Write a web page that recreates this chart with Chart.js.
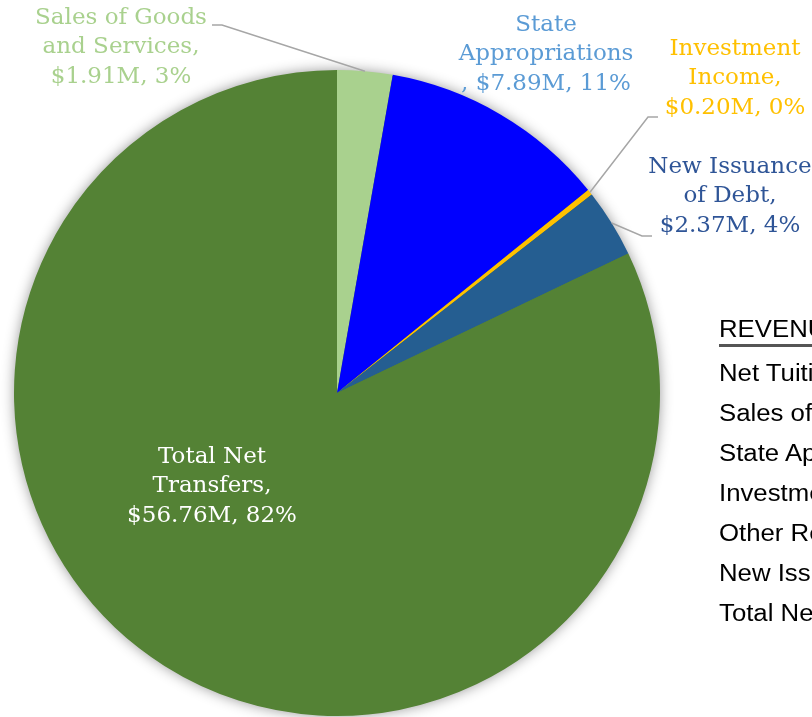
<!DOCTYPE html>
<html>
<head>
<meta charset="utf-8">
<script src="https://cdn.jsdelivr.net/npm/chart.js@4.4.1/dist/chart.umd.min.js"></script>
<style>
  html, body { margin: 0; padding: 0; background: #fff; overflow: hidden; }
  #wrap { position: relative; width: 812px; height: 717px; overflow: hidden; }
  #pie { position: absolute; left: 0; top: 0; }
  #revTable { position: absolute; left: 719px; top: 315px; font-family: "Liberation Sans", Arial, sans-serif; font-size: 23px; color: #000; white-space: nowrap; transform: scaleX(1.12); transform-origin: 0 0; }
  #revTable .hdr { border-bottom: 3px solid #555; line-height: 29px; margin-bottom: 6px; display: inline-block; padding-right: 40px; }
  #revTable .row { line-height: 40px; }
</style>
</head>
<body>
<div id="wrap">
  <canvas id="pie" width="812" height="717"></canvas>
  <div id="revTable"></div>
</div>
<script>
// datos del grafico
const categories = ['Net Tuition', 'Sales of Goods and Services', 'State Appropriations', 'Investment Income', 'Other Revenue', 'New Issuance of Debt', 'Total Net Transfers'];
const revenueM = [0, 1.91, 7.89, 0.20, 0, 2.37, 56.76];
const tableHeader = 'REVENUES';

// colores
const sliceColors = ['#ED7D31', '#A9D18E', '#0000FF', '#FFC000', '#A5A5A5', '#255E91', '#548235'];
const labelColors = ['#ED7D31', '#A9D18E', '#5B9BD5', '#FFC000', '#A5A5A5', '#2F5597', '#FFFFFF'];

// etiquetas con saltos de linea (null = sin etiqueta)
const labelNames = [null, 'Sales of Goods\nand Services,', 'State\nAppropriations\n,', 'Investment\nIncome,', null, 'New Issuance\nof Debt,', 'Total Net\nTransfers,'];
const labelPos = [null, {x: 121, y: 18}, {x: 546, y: 25}, {x: 735, y: 49}, null, {x: 730, y: 167}, {x: 212, y: 457}];
// punto de anclaje de la linea guia (lado etiqueta)
const leaderAnchor = [null, {x: 212, y: 25, dx: 10}, null, {x: 658, y: 117, dx: -10}, null, {x: 652, y: 236, dx: -10}, null];

const total = revenueM.reduce((a, b) => a + b, 0);

// porcentajes redondeados para que sumen 100 (como Excel)
function roundedPercents(vals) {
  const raw = vals.map(v => v / total * 100);
  const out = raw.map(Math.floor);
  let left = 100 - out.reduce((a, b) => a + b, 0);
  const order = raw.map((r, i) => i).sort((a, b) => (raw[b] - out[b]) - (raw[a] - out[a]));
  for (let k = 0; k < left; k++) out[order[k]]++;
  return out;
}
const percents = roundedPercents(revenueM);

// tabla de la derecha
const tbl = document.getElementById('revTable');
tbl.innerHTML = `<div class="hdr">${tableHeader}</div>` + categories.map(c => `<div class="row">${c}</div>`).join('');

const shadowPlugin = {
  id: 'pieShadow',
  beforeDatasetsDraw(chart) {
    const arc = chart.getDatasetMeta(0).data[0];
    const ctx = chart.ctx;
    ctx.save();
    ctx.shadowColor = 'rgba(0,0,0,0.45)';
    ctx.shadowBlur = 14;
    ctx.fillStyle = '#548235';
    ctx.beginPath();
    ctx.arc(arc.x, arc.y, arc.outerRadius - 1, 0, Math.PI * 2);
    ctx.fill();
    ctx.restore();
  }
};

const labelPlugin = {
  id: 'sliceLabels',
  afterDatasetsDraw(chart) {
    const ctx = chart.ctx;
    const arcs = chart.getDatasetMeta(0).data;
    ctx.save();
    ctx.font = '23px "DejaVu Serif", "Liberation Serif", Georgia, serif';
    ctx.textAlign = 'center';
    ctx.textBaseline = 'middle';
    revenueM.forEach((v, i) => {
      if (!labelNames[i]) return;
      const a = arcs[i];
      // linea guia
      if (leaderAnchor[i]) {
        const mid = (a.startAngle + a.endAngle) / 2;
        const ex = a.x + Math.cos(mid) * a.outerRadius;
        const ey = a.y + Math.sin(mid) * a.outerRadius;
        const p = leaderAnchor[i];
        ctx.strokeStyle = '#A6A6A6';
        ctx.lineWidth = 1.5;
        ctx.beginPath();
        ctx.moveTo(p.x, p.y);
        ctx.lineTo(p.x + p.dx, p.y);
        ctx.lineTo(ex, ey);
        ctx.stroke();
      }
      const valText = '$' + v.toFixed(2) + 'M, ' + percents[i] + '%';
      const lines = labelNames[i].split('\n');
      if (lines[lines.length - 1] === ',') lines[lines.length - 1] += ' ' + valText;
      else lines.push(valText);
      ctx.fillStyle = labelColors[i];
      lines.forEach((t, k) => ctx.fillText(t, labelPos[i].x, labelPos[i].y + k * 29.5));
    });
    ctx.restore();
  }
};

new Chart(document.getElementById('pie').getContext('2d'), {
  type: 'pie',
  data: {
    labels: categories,
    datasets: [{
      data: revenueM,
      backgroundColor: sliceColors,
      borderWidth: 0
    }]
  },
  options: {
    responsive: false,
    animation: false,
    layout: { padding: { left: 14, top: 70, right: 152, bottom: 1 } },
    plugins: {
      legend: { display: false },
      tooltip: { enabled: false }
    }
  },
  plugins: [shadowPlugin, labelPlugin]
});
</script>
</body>
</html>
